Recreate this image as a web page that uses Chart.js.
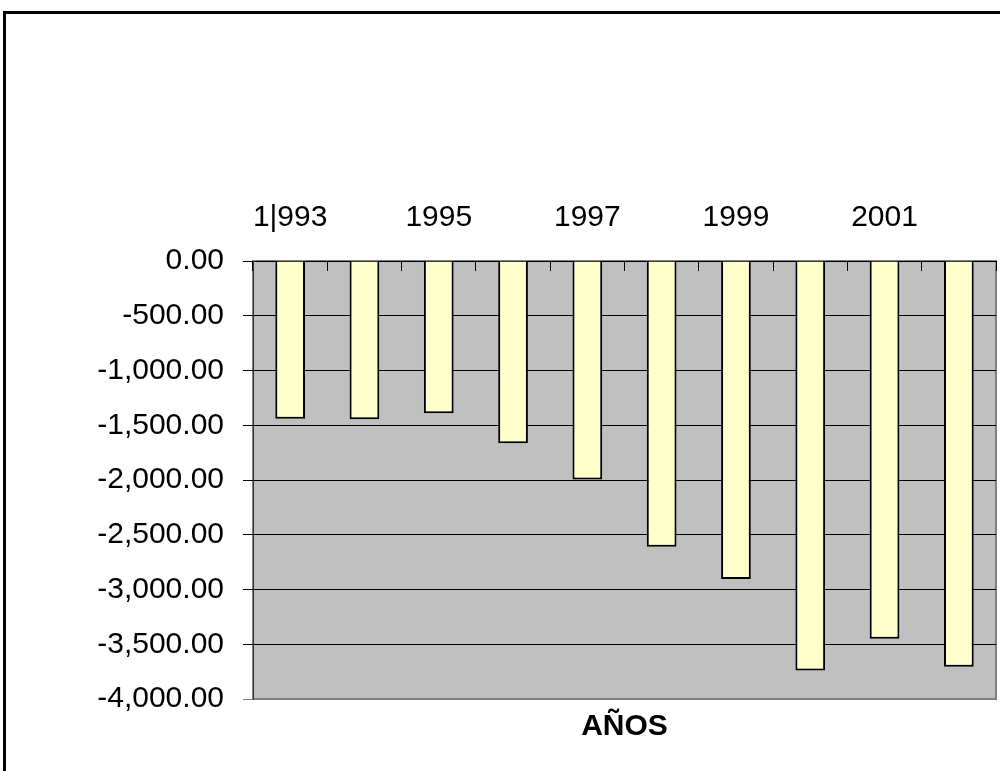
<!DOCTYPE html>
<html>
<head>
<meta charset="utf-8">
<script src="https://cdn.jsdelivr.net/npm/chart.js@4/dist/chart.umd.min.js"></script>
<style>
  html, body { margin: 0; padding: 0; width: 1000px; height: 771px; overflow: hidden; background: #fff; }
  #frame { position: absolute; left: 3px; top: 11px; width: 1100px; height: 900px; border: 3px solid #000; }
  #c { position: absolute; left: 0; top: 0; }
</style>
</head>
<body>
<div id="frame"></div>
<canvas id="c" width="1000" height="771"></canvas>
<script>
const categories = ['1993','1994','1995','1996','1997','1998','1999','2000','2001','2002'];
const values = [-1440, -1445, -1390, -1665, -1995, -2610, -2905, -3740, -3450, -3705];
const xTickLabels = ['1|993','','1995','','1997','','1999','','2001',''];
const yMin = -4000, yMax = 0, yStep = 500;
const axisTitle = 'AÑOS';

const FONT = "'Liberation Sans', Arial, sans-serif";

const plotBg = {
  id: 'plotBg',
  beforeDraw(chart) {
    const {ctx, chartArea: a} = chart;
    ctx.save();
    ctx.fillStyle = '#C0C0C0';
    ctx.fillRect(a.left, a.top, a.right - a.left, a.bottom - a.top);
    ctx.strokeStyle = '#808080';
    ctx.lineWidth = 2;
    ctx.strokeRect(a.left, a.top, a.right - a.left, a.bottom - a.top);
    ctx.restore();
  }
};

new Chart(document.getElementById('c'), {
  type: 'bar',
  data: {
    labels: categories,
    datasets: [{
      data: values,
      backgroundColor: '#FFFFCC',
      borderColor: '#000',
      borderWidth: 2,
      barPercentage: 0.4,
      categoryPercentage: 1.0,
      xAxisID: 'x'
    }]
  },
  options: {
    responsive: false,
    animation: false,
    events: [],
    layout: { padding: { left: 0, top: 0, right: 4, bottom: 26 } },
    plugins: { legend: { display: false }, tooltip: { enabled: false }, title: { display: false } },
    scales: {
      x: {
        type: 'category',
        position: 'top',
        offset: true,
        grid: { offset: true, drawOnChartArea: false, drawTicks: true, tickLength: -10, color: '#000', lineWidth: 1 },
        border: { display: true, color: '#000', width: 1 },
        ticks: {
          autoSkip: false, maxRotation: 0, minRotation: 0, padding: 35,
          color: '#000', font: { family: FONT, size: 30 },
          callback: (v, i) => xTickLabels[i]
        },
        afterFit(s) { s.height = 261; }
      },
      x2: {
        type: 'category',
        position: 'bottom',
        labels: categories,
        grid: { display: false, drawTicks: false },
        border: { display: false },
        ticks: { display: false },
        title: { display: true, text: axisTitle, color: '#000', font: { family: FONT, size: 30, weight: 'bold' }, padding: { top: 10, bottom: 0 } },
        afterFit(s) { s.height = 46; }
      },
      y: {
        min: yMin, max: yMax,
        grid: {
          color: (c) => (c.tick && c.tick.value === yMin) ? '#808080' : '#000',
          lineWidth: 1, tickLength: 10, drawTicks: true
        },
        border: { display: true, color: '#333', width: 1 },
        ticks: {
          stepSize: yStep, padding: 19, color: '#000',
          font: { family: FONT, size: 30 },
          callback: (v) => Number(v).toLocaleString('en-US', { minimumFractionDigits: 2, maximumFractionDigits: 2 })
        },
        afterFit(s) { s.width = 253; }
      }
    }
  },
  plugins: [plotBg]
});
</script>
</body>
</html>
